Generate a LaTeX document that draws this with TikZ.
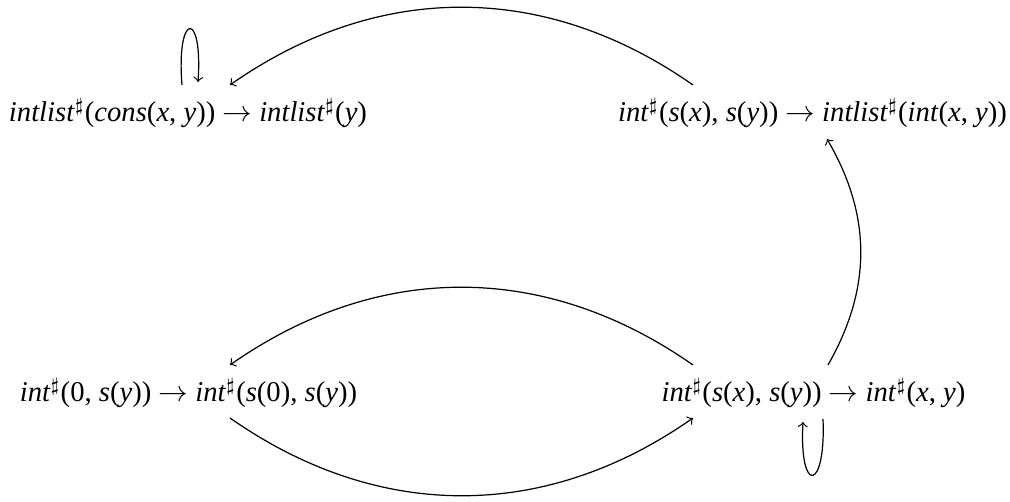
\documentclass[tikz,border=0pt]{standalone}
\usepackage{fontspec}
\setmainfont{Liberation Serif}
\usetikzlibrary{calc}
\newcommand{\fn}[1]{\textit{#1}}
\newcommand{\shp}{$^{\sharp}$}
\begin{document}
\begin{tikzpicture}[x=0.37pt,y=0.37pt,
  term/.style={inner sep=0pt,anchor=base,font=\fontsize{10.6pt}{12pt}\selectfont},
  edge/.style={->,line width=0.45pt}]
\useasboundingbox (0,0) rectangle (1010,502);
\node[term] (A) at (188,380) {\fn{intlist}\shp(\fn{cons}(\fn{x}, \fn{y})) $\rightarrow$ \fn{intlist}\shp(\fn{y})};
\node[term] (B) at (812.5,380) {\fn{int}\shp(\fn{s}(\fn{x}), \fn{s}(\fn{y})) $\rightarrow$ \fn{intlist}\shp(\fn{int}(\fn{x}, \fn{y}))};
\node[term] (C) at (188.5,100) {\fn{int}\shp(0, \fn{s}(\fn{y})) $\rightarrow$ \fn{int}\shp(\fn{s}(0), \fn{s}(\fn{y}))};
\node[term] (D) at (813.5,100) {\fn{int}\shp(\fn{s}(\fn{x}), \fn{s}(\fn{y})) $\rightarrow$ \fn{int}\shp(\fn{x}, \fn{y})};
% B -> A
\draw[edge] ($(B.base)+(-119.5,37)$) to[bend right=35] ($(A.base)+(42,37)$);
% D -> B
\draw[edge] ($(D.base)+(14.5,37)$) to[bend right=30] ($(B.base)+(14.5,-17)$);
% D -> C
\draw[edge] ($(D.base)+(-120.5,37)$) to[bend right=35] ($(C.base)+(41.5,37)$);
% C -> D
\draw[edge] ($(C.base)+(41.5,-16)$) to[bend right=35] ($(D.base)+(-120.5,-16)$);
% loop A
\draw[edge] ($(A.base)+(-6,37)$) .. controls ($(A.base)+(-12,110)$) and ($(A.base)+(15,113)$) .. ($(A.base)+(10,40)$);
% loop D
\draw[edge] ($(D.base)+(9.5,-17)$) .. controls ($(D.base)+(12.5,-90)$) and ($(D.base)+(-14.5,-93)$) .. ($(D.base)+(-10.5,-20)$);
\end{tikzpicture}
\end{document}
